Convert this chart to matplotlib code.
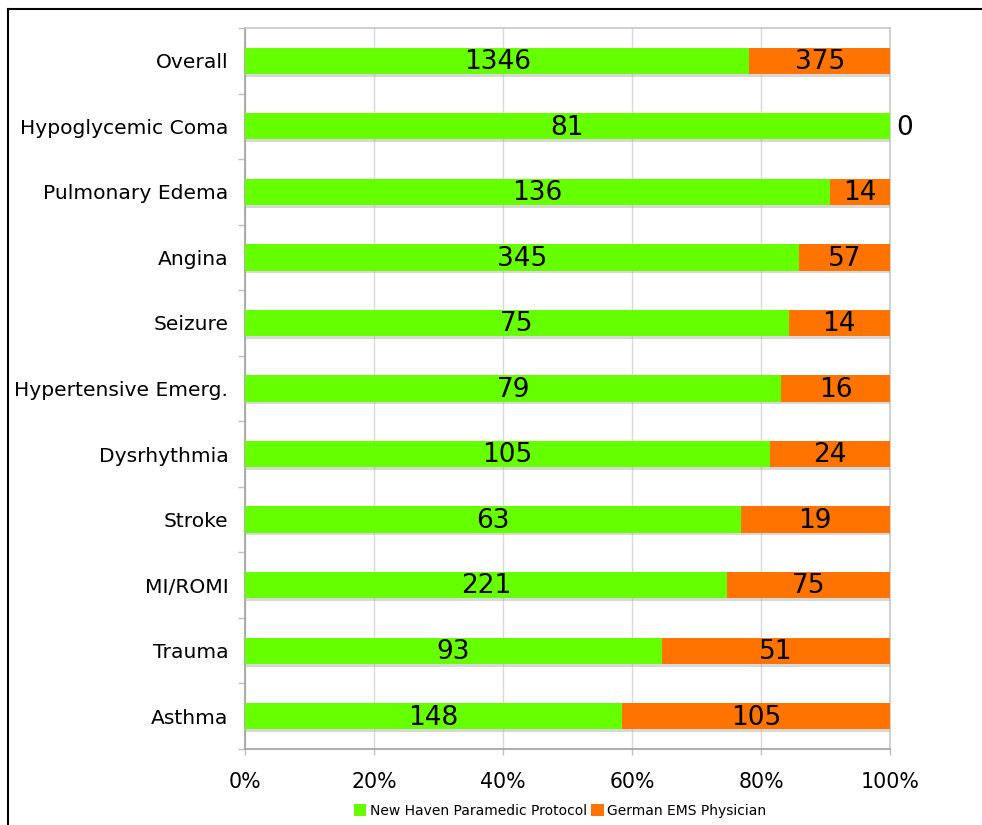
import matplotlib
matplotlib.use("Agg")
import matplotlib.pyplot as plt
import matplotlib.patheffects as pe
from matplotlib.lines import Line2D
from matplotlib.patches import Patch
import numpy as np

categories = ["Overall", "Hypoglycemic Coma", "Pulmonary Edema", "Angina", "Seizure",
              "Hypertensive Emerg.", "Dysrhythmia", "Stroke", "MI/ROMI", "Trauma", "Asthma"]
new_haven = [1346, 81, 136, 345, 75, 79, 105, 63, 221, 93, 148]
german_ems = [375, 0, 14, 57, 14, 16, 24, 19, 75, 51, 105]
series_names = ["New Haven Paramedic Protocol", "German EMS Physician"]
xticks = [0, 20, 40, 60, 80, 100]
xtick_labels = ["0%", "20%", "40%", "60%", "80%", "100%"]

GREEN = "#66FF00"
ORANGE = "#FF7300"

plt.rcParams['font.family'] = ['DejaVu Sans']
fig = plt.figure(figsize=(9.82, 8.25), dpi=100)
ax = fig.add_axes([245/982, 76/825, 645/982, 721/825])

nh = np.array(new_haven, dtype=float)
ge = np.array(german_ems, dtype=float)
tot = nh + ge
p1 = nh / tot * 100
p2 = ge / tot * 100
y = np.arange(len(categories))

shadow = [pe.SimplePatchShadow(offset=(0, -2), shadow_rgbFace='#aaaaaa', alpha=0.45), pe.Normal()]
b1 = ax.barh(y, p1, height=0.4, color=GREEN, zorder=3)
b2 = ax.barh(y, p2, left=p1, height=0.4, color=ORANGE, zorder=3)
for b in list(b1) + list(b2):
    b.set_path_effects(shadow)

VFS = 19
for i in range(len(categories)):
    ax.text(p1[i] / 2, y[i] + 0.02, str(new_haven[i]), ha='center', va='center', fontsize=VFS, zorder=5)
    if german_ems[i] > 0:
        ax.text(p1[i] + p2[i] / 2, y[i] + 0.02, str(german_ems[i]), ha='center', va='center', fontsize=VFS, zorder=5)
    else:
        ax.text(100.9, y[i] + 0.02, str(german_ems[i]), ha='left', va='center', fontsize=VFS, zorder=5, clip_on=False)

ax.set_xlim(0, 100)
ax.set_ylim(len(categories) - 0.5, -0.5)
ax.set_yticks(y)
ax.set_yticklabels(categories, fontsize=14.6)
ax.set_yticks(np.arange(-0.5, len(categories), 1), minor=True)
ax.set_xticks(xticks)
ax.set_xticklabels(xtick_labels, fontsize=14.8)

ax.tick_params(axis='y', which='major', length=0, pad=12)
ax.tick_params(axis='y', which='minor', length=5, color='#c0c0c0', width=1)
ax.tick_params(axis='x', which='major', length=4.5, color='#c0c0c0', width=1, pad=12)
ax.xaxis.grid(True, color='#d9d9d9', linewidth=1, zorder=0)
ax.set_axisbelow(True)
for s in ['top', 'right']:
    ax.spines[s].set_color('#c8c8c8')
for s in ['left', 'bottom']:
    ax.spines[s].set_color('#a0a0a0')
for s in ax.spines.values():
    s.set_linewidth(1.2)

handles = [Patch(facecolor=GREEN, edgecolor='none'), Patch(facecolor=ORANGE, edgecolor='none')]
fig.legend(handles, series_names, loc='center', bbox_to_anchor=(560/982, 14/825), ncol=2,
           frameon=False, fontsize=10, handlelength=0.9, handleheight=0.9,
           handletextpad=0.25, columnspacing=0.3, borderpad=0)

# figure border (top and left visible)
fig.add_artist(Line2D([8/982, 8/982], [0, 1 - 9/825], color='black', linewidth=1.5, transform=fig.transFigure))
fig.add_artist(Line2D([8/982, 1], [1 - 9/825, 1 - 9/825], color='black', linewidth=1.5, transform=fig.transFigure))

fig.savefig("out.png", dpi=100)
